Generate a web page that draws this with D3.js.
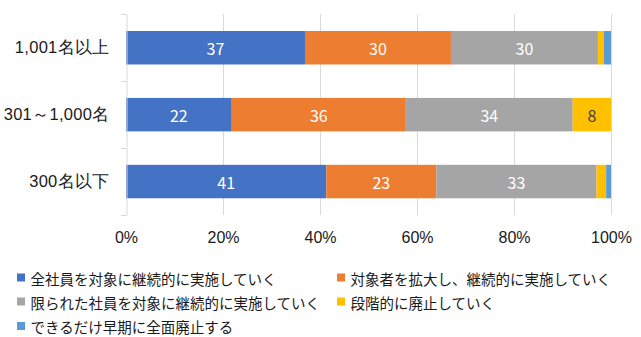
<!DOCTYPE html>
<html><head><meta charset="utf-8">
<script src="https://cdn.jsdelivr.net/npm/d3@7"></script>
<style>
html,body{margin:0;padding:0;background:#fff;}
svg{display:block;font-family:"Noto Sans CJK JP","Noto Sans",sans-serif;}
</style></head>
<body><svg id="c" width="641" height="337"></svg>
<script>
const categories = ["1,001名以上", "301～1,000名", "300名以下"];
const seriesNames = [
  "全社員を対象に継続的に実施していく",
  "対象者を拡大し、継続的に実施していく",
  "限られた社員を対象に継続的に実施していく",
  "段階的に廃止していく",
  "できるだけ早期に全面廃止する"
];
const seriesColors = ["#4472C4", "#ED7D31", "#A5A5A5", "#FFC000", "#5B9BD5"];
const allEmployees = [36.9, 21.8, 41.3];
const expandTargets = [30.1, 35.9, 22.7];
const limitedEmployees = [30.3, 34.4, 33.0];
const phaseOut = [1.2, 7.9, 2.0];
const abolishSoon = [1.5, 0.0, 1.0];
const xTicks = [0, 20, 40, 60, 80, 100];

const seriesValues = [allEmployees, expandTargets, limitedEmployees, phaseOut, abolishSoon];
const rows = categories.map((c, i) => {
  const r = {cat: c};
  seriesNames.forEach((n, k) => r[n] = seriesValues[k][i]);
  return r;
});

const svg = d3.select("#c");
svg.append("rect").attr("width", 641).attr("height", 337).attr("fill", "#fff");

const m = {left: 126, right: 611, top: 14.3, bottom: 215};
const x = d3.scaleLinear().domain([0, 100]).range([m.left, m.right]);
const y = d3.scaleBand().domain(categories).range([m.top, m.bottom]).paddingInner(0.5).paddingOuter(0.25);

// gridlines
svg.append("g").selectAll("line").data(xTicks.slice(1)).join("line")
  .attr("x1", d => Math.round(x(d)) + 0.5).attr("x2", d => Math.round(x(d)) + 0.5)
  .attr("y1", m.top).attr("y2", m.bottom)
  .attr("stroke", "#D9D9D9").attr("stroke-width", 1);

const stack = d3.stack().keys(seriesNames)(rows);

const g = svg.append("g");
stack.forEach((layer, k) => {
  g.append("g").attr("fill", seriesColors[k]).selectAll("rect").data(layer).join("rect")
    .attr("x", d => x(d[0]))
    .attr("width", d => Math.max(0, x(d[1]) - x(d[0])))
    .attr("y", d => y(d.data.cat))
    .attr("height", y.bandwidth());
  g.append("g").selectAll("text").data(layer.filter(d => d[1] - d[0] >= 5)).join("text")
    .attr("x", d => (x(d[0]) + x(d[1])) / 2)
    .attr("y", d => y(d.data.cat) + y.bandwidth() / 2)
    .attr("text-anchor", "middle").attr("dominant-baseline", "central")
    .attr("font-size", 16)
    .attr("fill", k === 3 ? "#404040" : "#fff")
    .text(d => Math.round(d[1] - d[0]));
});

// y axis
const yAxis = d3.axisLeft(y).tickSize(0).tickPadding(17);
const ya = svg.append("g").attr("transform", `translate(${m.left + 0.5},0)`).call(yAxis);
ya.select(".domain").attr("stroke", "#D9D9D9");
ya.selectAll("text").attr("font-size", 16.5).attr("fill", "#1a1a1a").attr("font-family", "inherit")
  .attr("letter-spacing", 0.3);
// band boundary ticks
const bounds = [m.top, ...categories.map(c => y(c) + y.bandwidth() + y.step() * y.paddingInner() / 2)];
svg.append("g").selectAll("line").data(bounds).join("line")
  .attr("x1", m.left - 5).attr("x2", m.left + 0.5)
  .attr("y1", d => Math.round(d) + 0.5).attr("y2", d => Math.round(d) + 0.5)
  .attr("stroke", "#D9D9D9");

// x axis labels
const xAxis = d3.axisBottom(x).tickValues(xTicks).tickFormat(d => d + "%").tickSize(0).tickPadding(17);
const xa = svg.append("g").attr("transform", `translate(0,${m.bottom})`).call(xAxis);
xa.select(".domain").remove();
xa.selectAll("text").attr("font-size", 16).attr("fill", "#1a1a1a").attr("font-family", "inherit");

// legend
const legPos = [[17, 278], [337, 278], [17, 302], [337, 302], [17, 326.5]];
const leg = svg.append("g");
seriesNames.forEach((n, k) => {
  const [lx, ly] = legPos[k];
  leg.append("rect").attr("x", lx).attr("y", ly - 4.5).attr("width", 8).attr("height", 8).attr("fill", seriesColors[k]);
  leg.append("text").attr("x", lx + 13.5).attr("y", ly).attr("dominant-baseline", "central")
    .attr("font-size", 14.5).attr("fill", "#1a1a1a").text(n);
});
</script></body></html>
